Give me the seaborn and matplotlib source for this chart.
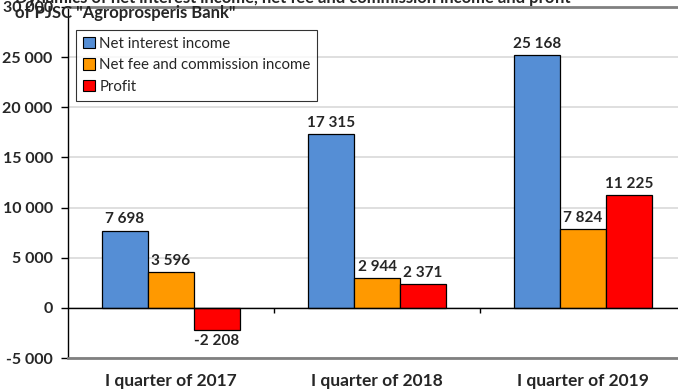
import matplotlib
matplotlib.use("Agg")
import matplotlib.pyplot as plt
import seaborn as sns
import pandas as pd

periods = ["I quarter of 2017", "I quarter of 2018", "I quarter of 2019"]
series_names = ["Net interest income", "Net fee and commission income", "Profit"]
net_interest = [7698, 17315, 25168]
net_fee = [3596, 2944, 7824]
profit = [-2208, 2371, 11225]
yticks = [-5000, 0, 5000, 10000, 15000, 20000, 25000, 30000]
title_line1 = "Dynamics of net interest income, net fee and commission income and profit"
title_line2 = 'of PJSC "Agroprosperis Bank"'
colors = ["#558ED5", "#FF9900", "#FF0000"]

rows = []
for name, vals in zip(series_names, [net_interest, net_fee, profit]):
    for p, v in zip(periods, vals):
        rows.append({"period": p, "series": name, "value": v})
df = pd.DataFrame(rows)

sns.set_theme(style="white")
plt.rcParams["font.family"] = ["Lato", "DejaVu Sans"]

W, H = 678, 392
fig = plt.figure(figsize=(W / 100, H / 100), dpi=100)
ax = fig.add_axes([68 / W, 1 - 358 / H, 618 / W, 351 / H])

sns.barplot(data=df, x="period", y="value", hue="series", order=periods,
            hue_order=series_names, palette=colors, width=0.67,
            edgecolor="black", linewidth=0.9, saturation=1, ax=ax, zorder=3)

ax.set_ylim(-5000, 30000)
ax.set_xlim(-0.5, len(periods) - 0.5)
ax.set_yticks(yticks)
ax.set_yticklabels([f"{v:,}".replace(",", " ") for v in yticks],
                   fontsize=11.5, fontweight="bold")
ax.set_xticks(range(len(periods)))
ax.set_xticklabels(periods, fontsize=12.5, fontweight="bold")
ax.tick_params(axis="x", length=0, pad=11)
ax.tick_params(axis="y", length=5, width=1, color="black", direction="out", pad=6, left=True)
ax.set_xlabel("")
ax.set_ylabel("")

ax.grid(axis="y", color="#D9D9D9", linewidth=1.2, zorder=0)
ax.set_axisbelow(True)
ax.axhline(0, color="black", linewidth=1.0, zorder=4)
for i in range(len(periods) - 1):
    ax.vlines(i + 0.5, -500, 0, color="black", linewidth=1.0, zorder=4)

for side in ["top", "bottom"]:
    ax.spines[side].set_color("#808080")
    ax.spines[side].set_linewidth(2)
ax.spines["left"].set_color("black")
ax.spines["left"].set_linewidth(1)
ax.spines["right"].set_visible(False)

for cont in ax.containers:
    ax.bar_label(cont, labels=[f"{v:,.0f}".replace(",", " ") for v in cont.datavalues],
                 padding=3, fontsize=11, fontweight="bold", zorder=5)

handles, labels = ax.get_legend_handles_labels()
leg = ax.legend(handles, labels, loc="upper left",
                bbox_to_anchor=(76 / W, 1 - 30 / H), bbox_transform=fig.transFigure,
                borderaxespad=0, frameon=True, fancybox=False, fontsize=10.8,
                handlelength=0.8, handleheight=0.8, handletextpad=0.3,
                labelspacing=0.5, borderpad=0.45)
leg.get_frame().set_edgecolor("black")
leg.get_frame().set_linewidth(0.8)
for h in leg.legend_handles:
    h.set_edgecolor("black")
    h.set_linewidth(0.8)

fig.text(15 / W, 1 - 3 / H, title_line1, fontsize=12, fontweight="bold", va="baseline", ha="left")
fig.text(15 / W, 1 - 18 / H, title_line2, fontsize=12, fontweight="bold", va="baseline", ha="left")

fig.savefig("out.png", dpi=100)
